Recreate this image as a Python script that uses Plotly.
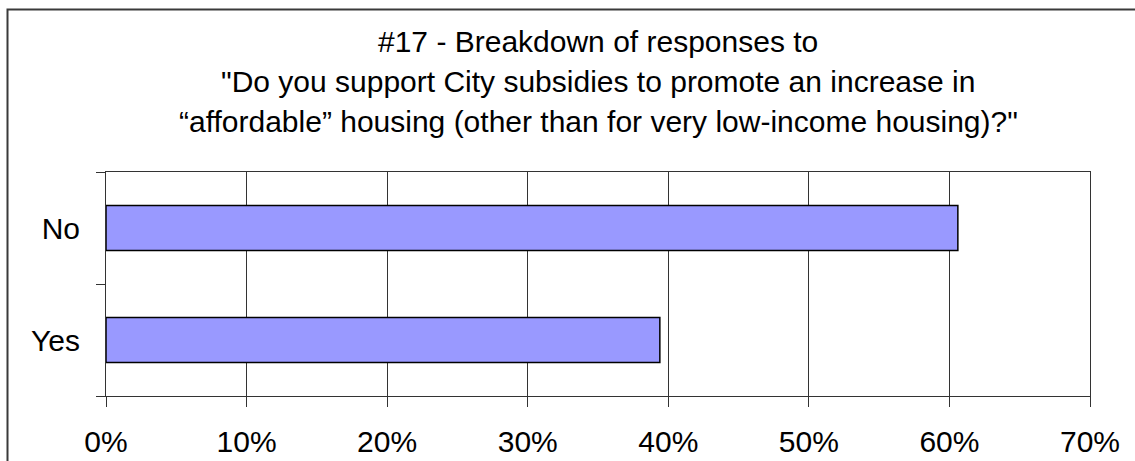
import plotly.graph_objects as go

# Survey responses (share of respondents)
categories = ["Yes", "No"]
shares = [0.394, 0.606]

title_lines = [
    "#17 - Breakdown of responses to",
    "\"Do you support City subsidies to promote an increase in",
    "\u201caffordable\u201d housing (other than for very low-income housing)?\"",
]

FONT = "Liberation Sans, Arial, sans-serif"

fig = go.Figure(
    go.Bar(
        x=shares,
        y=categories,
        orientation="h",
        width=0.4,
        marker=dict(color="#9999FF", line=dict(color="#000000", width=1.5)),
        hoverinfo="x+y",
    )
)

# Plot area spans 106..1090 px horizontally and 172..396 px vertically
L, R, T, B = 106, 1135 - 1090, 172, 461 - 396
W, H = 1135, 461
pw, ph = W - L - R, H - T - B


def px_to_paper_x(px):
    return (px - L) / pw


def px_to_paper_y(py):
    return (H - B - py) / ph


annotations = []
for line, cy in zip(title_lines, [41.5, 81.5, 121.5]):
    annotations.append(
        dict(
            text=line,
            x=px_to_paper_x(598),
            y=px_to_paper_y(cy),
            xref="paper",
            yref="paper",
            xanchor="center",
            yanchor="middle",
            showarrow=False,
            font=dict(family=FONT, size=30, color="#000000"),
        )
    )

# outer chart frame: left and top edges as one open path
fx0, fy_top, fy_bot, fx_end = (
    px_to_paper_x(7.5),
    px_to_paper_y(9.5),
    px_to_paper_y(480),
    px_to_paper_x(1250),
)
frame_path = f"M {fx0},{fy_bot} L {fx0},{fy_top} L {fx_end},{fy_top}"

fig.update_layout(
    width=W,
    height=H,
    margin=dict(l=L, r=R, t=T, b=B, pad=0, autoexpand=False),
    paper_bgcolor="#FFFFFF",
    plot_bgcolor="#FFFFFF",
    showlegend=False,
    bargap=0.6,
    font=dict(family=FONT, size=30, color="#000000"),
    annotations=annotations,
    shapes=[
        dict(
            type="path", xref="paper", yref="paper",
            path=frame_path,
            line=dict(color="#3A3A3A", width=2),
            fillcolor="rgba(0,0,0,0)",
            layer="below",
        ),
    ],
)

fig.update_xaxes(
    range=[0, 0.7],
    dtick=0.1,
    tick0=0,
    tickformat=".0%",
    automargin=False,
    showgrid=True,
    gridcolor="#333333",
    gridwidth=1,
    zeroline=False,
    showline=True,
    linecolor="#333333",
    linewidth=1,
    mirror=True,
    ticks="outside",
    ticklen=10,
    tickcolor="#333333",
    ticklabelstandoff=9,
    tickfont=dict(family=FONT, size=30, color="#000000"),
    fixedrange=True,
)

fig.update_yaxes(
    type="category",
    categoryorder="array",
    categoryarray=categories,
    tickson="boundaries",
    automargin=False,
    showgrid=False,
    zeroline=False,
    showline=True,
    linecolor="#333333",
    linewidth=1,
    mirror=True,
    ticks="outside",
    ticklen=9,
    tickcolor="#333333",
    ticklabelstandoff=19,
    tickfont=dict(family=FONT, size=30, color="#000000"),
    fixedrange=True,
)

fig.write_html("out.html", config={"displayModeBar": False})
